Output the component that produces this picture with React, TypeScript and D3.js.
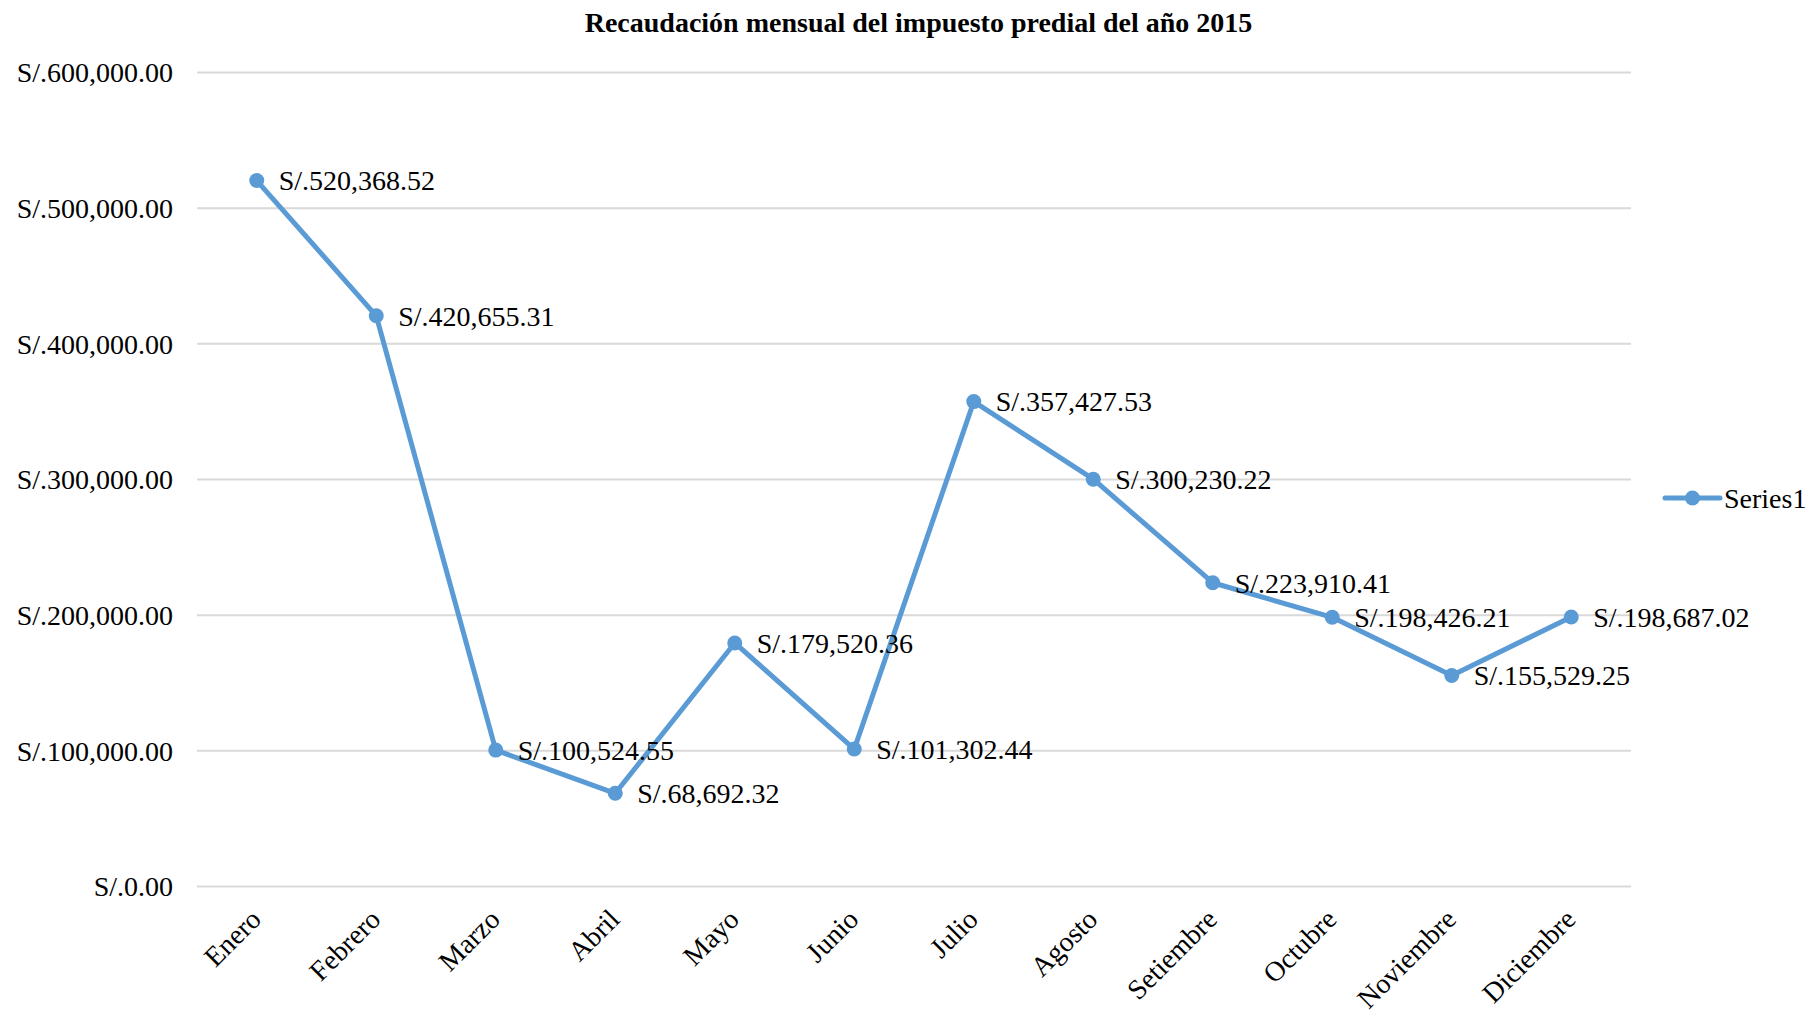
import React from "react";
import * as d3 from "d3";

const months = ["Enero", "Febrero", "Marzo", "Abril", "Mayo", "Junio", "Julio", "Agosto", "Setiembre", "Octubre", "Noviembre", "Diciembre"];
const values = [520368.52, 420655.31, 100524.55, 68692.32, 179520.36, 101302.44, 357427.53, 300230.22, 223910.41, 198426.21, 155529.25, 198687.02];
const yTicks = [0, 100000, 200000, 300000, 400000, 500000, 600000];
const title = "Recaudación mensual del impuesto predial del año 2015";
const seriesName = "Series1";

const W = 1809;
const H = 1011;
const FONT = "'Liberation Serif', 'Times New Roman', serif";
const BLUE = "#5B9BD5";

export default function App() {
  const x = d3.scalePoint<string>().domain(months).range([197, 1631]).padding(0.5);
  const y = d3.scaleLinear().domain([0, 600000]).range([886.5, 72.5]);
  const fmt = (v: number) => "S/." + d3.format(",.2f")(v);
  const line = d3
    .line<number>()
    .x((_, i) => x(months[i]) as number)
    .y((d) => y(d));

  return (
    <svg
      width={W}
      height={H}
      style={{ position: "fixed", left: 0, top: 0, background: "#fff" }}
      fontFamily={FONT}
    >
      <rect x={0} y={0} width={W} height={H} fill="#fff" />
      <text x={918.5} y={32} textAnchor="middle" fontWeight="bold" fontSize={28} fill="#000">
        {title}
      </text>
      {yTicks.map((t) => (
        <g key={t}>
          <line x1={197} x2={1631} y1={y(t)} y2={y(t)} stroke="#d9d9d9" strokeWidth={2} />
          <text x={173} y={y(t)} dy="0.35em" textAnchor="end" fontSize={28} fill="#000">
            {fmt(t)}
          </text>
        </g>
      ))}
      {months.map((m) => (
        <text
          key={m}
          transform={`translate(${(x(m) as number) + 6},921) rotate(-45)`}
          textAnchor="end"
          fontSize={28}
          fill="#000"
        >
          {m}
        </text>
      ))}
      <path d={line(values) || ""} fill="none" stroke={BLUE} strokeWidth={5} strokeLinejoin="round" strokeLinecap="round" />
      {values.map((v, i) => (
        <circle key={i} cx={x(months[i]) as number} cy={y(v)} r={7.5} fill={BLUE} />
      ))}
      {values.map((v, i) => (
        <text key={"l" + i} x={(x(months[i]) as number) + 22} y={y(v)} dy="0.35em" fontSize={28} fill="#000">
          {fmt(v)}
        </text>
      ))}
      <g>
        <line x1={1665} x2={1720} y1={498} y2={498} stroke={BLUE} strokeWidth={5} strokeLinecap="round" />
        <circle cx={1692.5} cy={498} r={7.5} fill={BLUE} />
        <text x={1724} y={498} dy="0.35em" fontSize={28} fill="#000">
          {seriesName}
        </text>
      </g>
    </svg>
  );
}
